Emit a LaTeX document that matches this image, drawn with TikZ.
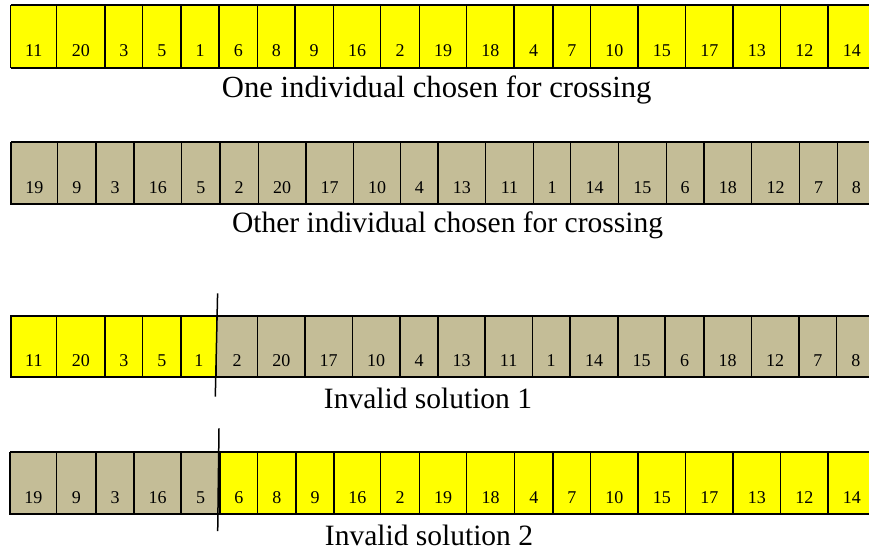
\documentclass[tikz,border=0pt]{standalone}
\usepackage{fontspec}
\setmainfont{Liberation Serif}
\definecolor{cellyellow}{HTML}{FFFF00}
\definecolor{celltan}{HTML}{C4BD97}
\newcommand\cellrow[4]{%
  \foreach \xa/\xb/\val/\col [count=\i] in {#4} {
    \pgfmathsetmacro\cw{\xb-\xa}
    \pgfmathsetmacro\ch{#3-#2}
    \node[cell, fill=\col, minimum width=\cw pt, minimum height=\ch pt] (#1c\i) at (\xa,#2) {};
    \node[num] (#1n\i) at ([yshift=11pt]#1c\i.south) {\val};
  }
  \draw[edge] (#1c1.north west) -- (#1c20.north east);
  \draw[edge] (#1c1.south west) -- (#1c20.south east);
}
\begin{document}
\begin{tikzpicture}[x=1pt,y=-1pt,
  cell/.style={draw=black, line width=1.2pt, inner sep=0pt, outer sep=0pt, anchor=north west},
  num/.style={font=\fontsize{18}{18}\selectfont, anchor=base, inner sep=0pt},
  caption/.style={font=\fontsize{29.5}{30}\selectfont, anchor=base, inner sep=0pt},
  edge/.style={line width=1.7pt},
  cutline/.style={line width=1.5pt}]
\useasboundingbox (0,0) rectangle (869,550);
\clip (0,0) rectangle (869,550);

\cellrow{ra}{5.3}{67.7}{10.7/56.7/11/cellyellow, 56.7/105/20/cellyellow, 105/142.7/3/cellyellow, 142.7/181/5/cellyellow, 181/219/1/cellyellow, 219/257.7/6/cellyellow, 257.7/295/8/cellyellow, 295/333.3/9/cellyellow, 333.3/380.7/16/cellyellow, 380.7/419.3/2/cellyellow, 419.3/466.7/19/cellyellow, 466.7/514/18/cellyellow, 514/553/4/cellyellow, 553/590.7/7/cellyellow, 590.7/638/10/cellyellow, 638/685.7/15/cellyellow, 685.7/733/17/cellyellow, 733/780.7/13/cellyellow, 780.7/828/12/cellyellow, 828/875.5/14/cellyellow}

\cellrow{rb}{142.3}{204}{11/57.7/19/celltan, 57.7/96/9/celltan, 96/134/3/celltan, 134/181.7/16/celltan, 181.7/220/5/celltan, 220/258.3/2/celltan, 258.3/306/20/celltan, 306/353.3/17/celltan, 353.3/400.7/10/celltan, 400.7/438/4/celltan, 438/485.7/13/celltan, 485.7/533.3/11/celltan, 533.3/570.7/1/celltan, 570.7/618.3/14/celltan, 618.3/666.3/15/celltan, 666.3/704/6/celltan, 704/751.7/18/celltan, 751.7/799.7/12/celltan, 799.7/837.3/7/celltan, 837.3/875.5/8/celltan}

\cellrow{rc}{315.7}{377.3}{11/56.7/11/cellyellow, 56.7/105/20/cellyellow, 105/142.7/3/cellyellow, 142.7/181/5/cellyellow, 181/216.7/1/cellyellow, 216.7/257.7/2/celltan, 257.7/305/20/celltan, 305/352.3/17/celltan, 352.3/400/10/celltan, 400/438/4/celltan, 438/485/13/celltan, 485/532.3/11/celltan, 532.3/570/1/celltan, 570/618/14/celltan, 618/665/15/celltan, 665/704/6/celltan, 704/751.3/18/celltan, 751.3/799/12/celltan, 799/836.7/7/celltan, 836.7/875/8/celltan}

\cellrow{rd}{452.3}{514.3}{10/56.7/19/celltan, 56.7/96/9/celltan, 96/134/3/celltan, 134/181/16/celltan, 181/220/5/celltan, 220/257.7/6/cellyellow, 257.7/296/8/cellyellow, 296/334/9/cellyellow, 334/380.7/16/cellyellow, 380.7/419.3/2/cellyellow, 419.3/466.7/19/cellyellow, 466.7/514.7/18/cellyellow, 514.7/553/4/cellyellow, 553/590.7/7/cellyellow, 590.7/638/10/cellyellow, 638/685.7/15/cellyellow, 685.7/733/17/cellyellow, 733/780.7/13/cellyellow, 780.7/828/12/cellyellow, 828/875.5/14/cellyellow}

\node[caption, font=\fontsize{30.7}{31}\selectfont] (capa) at (436.7,97.5) {One individual chosen for crossing};
\node[caption] (capb) at (447.5,232.5) {Other individual chosen for crossing};
\node[caption] (capc) at (428,408) {Invalid solution 1};
\node[caption] (capd) at (429,545) {Invalid solution 2};

\coordinate (cutatop) at (217.6,293.3);
\coordinate (cutabot) at (215.3,396.7);
\coordinate (cutbtop) at (219,428.3);
\coordinate (cutbbot) at (217.7,531);
\draw[cutline] (cutatop) -- (cutabot);
\draw[cutline] (cutbtop) -- (cutbbot);
\end{tikzpicture}
\end{document}
